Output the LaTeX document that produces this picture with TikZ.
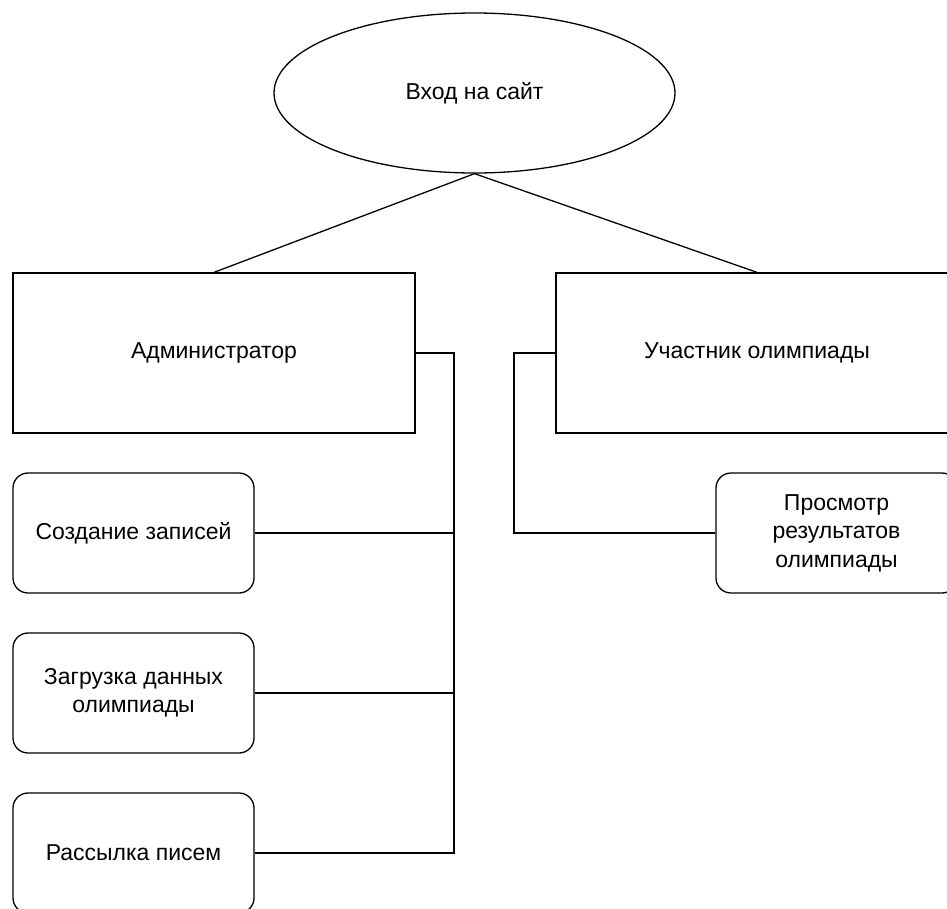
\documentclass[tikz,border=0pt]{standalone}
\usepackage{fontspec}
\setmainfont{Liberation Sans}
\usetikzlibrary{shapes.geometric}
\begin{document}
\begin{tikzpicture}[x=1pt,y=-1pt,
  every node/.style={font=\fontsize{23}{28.5}\selectfont, align=center, inner sep=0pt, line width=1.3pt, draw=black},
  ellbox/.style={ellipse, minimum width=401pt, minimum height=160pt},
  rolebox/.style={rectangle, minimum width=402pt, minimum height=160pt},
  taskbox/.style={rectangle, rounded corners=15pt, minimum width=241pt, minimum height=120pt},
  conn/.style={line width=1.3pt, draw=black}]
\useasboundingbox (0,0) rectangle (947,908);
\node[ellbox] (ell) at (474.5,93) {Вход на сайт};
\node[rolebox] (adm) at (214,353) {Администратор};
\node[rolebox] (par) at (757,353) {Участник олимпиады};
\node[taskbox] (c1) at (133.5,533) {Создание записей};
\node[taskbox] (c2) at (133.5,693) {Загрузка данных\\олимпиады};
\node[taskbox] (c3) at (133.5,853) {Рассылка писем};
\node[taskbox] (c4) at (836.5,533) {Просмотр\\результатов\\олимпиады};
\coordinate (busA) at (454,353);
\coordinate (busP) at (514,353);
\draw[conn] (ell.south) -- (adm.north);
\draw[conn] (ell.south) -- (par.north);
\draw[conn] (adm.east) -- (busA) -- (busA |- c3.east) -- (c3.east);
\draw[conn] (c1.east) -- (c1.east -| busA);
\draw[conn] (c2.east) -- (c2.east -| busA);
\draw[conn] (par.west) -- (busP) |- (c4.west);
\end{tikzpicture}
\end{document}
